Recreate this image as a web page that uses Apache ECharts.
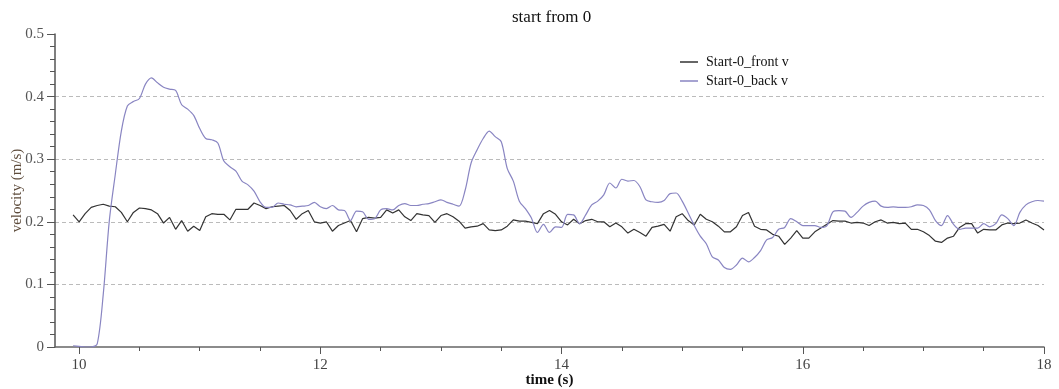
<!DOCTYPE html>
<html>
<head>
<meta charset="utf-8">
<script src="https://cdn.jsdelivr.net/npm/echarts@6/dist/echarts.min.js"></script>
<style>
  body { margin: 0; background: #fff; }
  #chart { width: 1059px; height: 389px; }
</style>
</head>
<body>
<div id="chart"></div>
<script>
// sampling grid: 9.95 s .. 18.00 s, every 0.05 s
var t0 = 9.95, dt = 0.05;

// Start-0_front v (m/s)
var frontV = [
    0.211, 0.200, 0.213, 0.223, 0.226, 0.228, 0.225, 0.224, 0.215, 0.200,
    0.215, 0.222, 0.221, 0.219, 0.213, 0.198, 0.207, 0.188, 0.202, 0.185,
    0.193, 0.186, 0.208, 0.213, 0.212, 0.212, 0.203, 0.220, 0.220, 0.220,
    0.230, 0.226, 0.221, 0.224, 0.225, 0.226, 0.218, 0.204, 0.213, 0.218,
    0.200, 0.198, 0.200, 0.185, 0.194, 0.198, 0.202, 0.184, 0.205, 0.207,
    0.206, 0.207, 0.219, 0.214, 0.219, 0.208, 0.202, 0.213, 0.211, 0.210,
    0.199, 0.210, 0.213, 0.208, 0.201, 0.190, 0.192, 0.193, 0.197, 0.187,
    0.186, 0.187, 0.193, 0.203, 0.201, 0.201, 0.199, 0.197, 0.213, 0.218,
    0.212, 0.200, 0.195, 0.204, 0.197, 0.202, 0.204, 0.200, 0.200, 0.192,
    0.198, 0.192, 0.182, 0.188, 0.183, 0.177, 0.191, 0.193, 0.196, 0.185,
    0.208, 0.213, 0.202, 0.195, 0.212, 0.204, 0.200, 0.193, 0.184, 0.184,
    0.192, 0.210, 0.215, 0.193, 0.188, 0.187, 0.180, 0.177, 0.164, 0.174,
    0.186, 0.174, 0.174, 0.184, 0.190, 0.196, 0.202, 0.201, 0.201, 0.198,
    0.199, 0.198, 0.194, 0.200, 0.203, 0.198, 0.199, 0.197, 0.198, 0.188,
    0.188, 0.184, 0.178, 0.169, 0.167, 0.174, 0.177, 0.191, 0.197, 0.197,
    0.182, 0.188, 0.187, 0.187, 0.195, 0.198, 0.197, 0.198, 0.203, 0.198,
    0.194, 0.187
];

// Start-0_back v (m/s)
var backV = [
    0.002, 0.001, 0.000, 0.000, 0.005, 0.084, 0.201, 0.276, 0.345, 0.385,
    0.392, 0.397, 0.420, 0.430, 0.422, 0.415, 0.412, 0.410, 0.387, 0.380,
    0.370, 0.349, 0.333, 0.331, 0.326, 0.297, 0.288, 0.281, 0.265, 0.259,
    0.249, 0.232, 0.223, 0.223, 0.230, 0.228, 0.227, 0.224, 0.225, 0.226,
    0.231, 0.224, 0.221, 0.226, 0.219, 0.218, 0.202, 0.217, 0.216, 0.204,
    0.205, 0.219, 0.221, 0.219, 0.226, 0.229, 0.226, 0.226, 0.228, 0.229,
    0.232, 0.235, 0.231, 0.228, 0.225, 0.250, 0.294, 0.315, 0.333, 0.345,
    0.336, 0.328, 0.285, 0.265, 0.233, 0.221, 0.206, 0.183, 0.196, 0.183,
    0.192, 0.191, 0.212, 0.211, 0.197, 0.211, 0.227, 0.233, 0.243, 0.262,
    0.254, 0.268, 0.265, 0.266, 0.256, 0.235, 0.232, 0.231, 0.234, 0.245,
    0.246, 0.233, 0.214, 0.194, 0.177, 0.165, 0.144, 0.139, 0.127, 0.124,
    0.131, 0.142, 0.136, 0.143, 0.154, 0.171, 0.175, 0.188, 0.191, 0.205,
    0.200, 0.194, 0.194, 0.194, 0.191, 0.194, 0.216, 0.218, 0.217, 0.207,
    0.215, 0.225, 0.231, 0.233, 0.225, 0.223, 0.224, 0.223, 0.223, 0.224,
    0.227, 0.226, 0.219, 0.202, 0.194, 0.210, 0.196, 0.188, 0.190, 0.190,
    0.190, 0.197, 0.192, 0.197, 0.211, 0.205, 0.194, 0.215, 0.227, 0.232,
    0.234, 0.233
];

var xMajorTicks = [10, 12, 14, 16, 18];
var xMinorTicks = [10.5, 11, 11.5, 12.5, 13, 13.5, 14.5, 15, 15.5, 16.5, 17, 17.5];

var time = frontV.map(function (v, i) { return +(t0 + i * dt).toFixed(2); });

var serif = '"Liberation Serif", "DejaVu Serif", serif';

var myChart = echarts.init(document.getElementById('chart'));

var option = {
    animation: false,
    backgroundColor: '#fff',
    title: {
        text: 'start from 0',
        left: 507,
        top: 4,
        textStyle: { fontFamily: serif, fontSize: 17, fontWeight: 'normal', color: '#111' }
    },
    legend: {
        orient: 'vertical',
        left: 675,
        top: 50,
        icon: 'rect',
        itemWidth: 18,
        itemHeight: 1.5,
        itemGap: 5,
        textStyle: { fontFamily: serif, fontSize: 14, color: '#111', padding: [0, 0, 0, 3] },
        data: ['Start-0_front v', 'Start-0_back v']
    },
    grid: {
        left: 55,
        right: 15,
        top: 34,
        bottom: 42,
        containLabel: false,
        outerBoundsMode: 'none'
    },
    xAxis: [
        {
            type: 'value',
            min: 9.8,
            max: 18,
            name: 'time (s)',
            nameLocation: 'middle',
            nameGap: 26,
            nameMoveOverlap: false,
            nameTextStyle: { fontFamily: serif, fontSize: 15, fontWeight: 'bold', color: '#111' },
            axisLine: { lineStyle: { color: '#666', width: 1.5 } },
            axisTick: { show: true, length: 7, customValues: xMajorTicks, lineStyle: { color: '#555' } },
            axisLabel: { customValues: xMajorTicks, margin: 11, fontFamily: serif, fontSize: 15, color: '#444' },
            splitLine: { show: false }
        },
        {
            type: 'value',
            min: 9.8,
            max: 18,
            position: 'bottom',
            axisLine: { show: false },
            axisTick: { show: true, length: 4, customValues: xMinorTicks, lineStyle: { color: '#555' } },
            axisLabel: { show: false },
            splitLine: { show: false }
        }
    ],
    yAxis: {
        type: 'value',
        min: 0,
        max: 0.5,
        interval: 0.1,
        name: 'velocity (m/s)',
        nameLocation: 'middle',
        nameGap: 30,
        nameMoveOverlap: false,
        nameTextStyle: { fontFamily: serif, fontSize: 15, color: '#5e4c3c' },
        axisLine: { show: true, lineStyle: { color: '#555', width: 1.5 } },
        axisTick: { show: true, length: 8, lineStyle: { color: '#555' } },
        minorTick: { show: true, splitNumber: 5, length: 5, lineStyle: { color: '#555' } },
        axisLabel: { margin: 11, fontFamily: serif, fontSize: 15, color: '#555' },
        splitLine: {
            show: true,
            showMinLine: false,
            showMaxLine: false,
            lineStyle: { color: '#bbb', type: [4, 3], width: 1 }
        }
    },
    series: [
        {
            name: 'Start-0_front v',
            type: 'line',
            xAxisIndex: 0,
            symbol: 'none',
            lineStyle: { color: '#333', width: 1.2 },
            itemStyle: { color: '#333' },
            data: time.map(function (t, i) { return [t, frontV[i]]; })
        },
        {
            name: 'Start-0_back v',
            type: 'line',
            xAxisIndex: 0,
            symbol: 'none',
            smooth: 0.3,
            lineStyle: { color: '#8985c2', width: 1.2 },
            itemStyle: { color: '#8985c2' },
            data: time.map(function (t, i) { return [t, backV[i]]; })
        }
    ]
};

myChart.setOption(option);
window.onresize = function () { myChart.resize(); };
</script>
</body>
</html>
